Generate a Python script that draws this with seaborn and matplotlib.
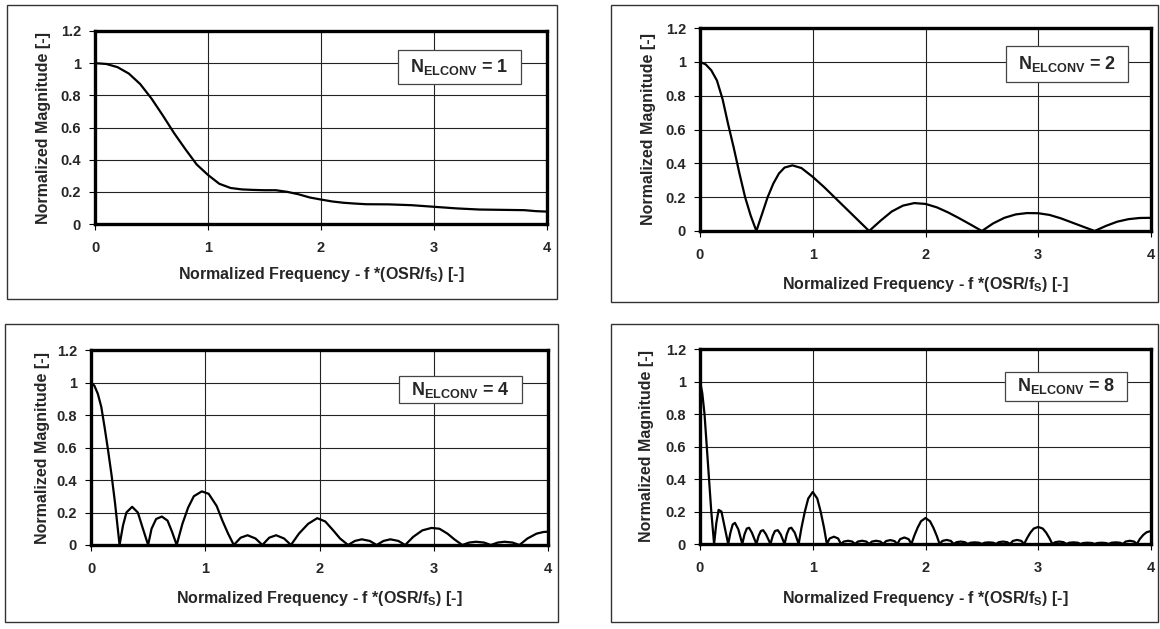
import matplotlib.pyplot as plt
import seaborn as sns
from matplotlib.patches import Rectangle

W, H = 1160, 629

# N_ELCONV = 1
freq_n1 = [0, 0.1, 0.2, 0.3, 0.4, 0.5, 0.6, 0.7, 0.8, 0.9, 1.0, 1.1, 1.2, 1.3, 1.4, 1.5,
           1.6, 1.7, 1.8, 1.9, 2.0, 2.1, 2.2, 2.3, 2.4, 2.6, 2.8, 3.0, 3.2, 3.4, 3.6, 3.8, 3.9, 4.0]
mag_n1 = [1.0, 0.995, 0.975, 0.935, 0.87, 0.78, 0.675, 0.565, 0.465, 0.37, 0.305, 0.25, 0.224,
          0.215, 0.212, 0.21, 0.21, 0.2, 0.185, 0.165, 0.152, 0.14, 0.132, 0.127, 0.123, 0.122,
          0.117, 0.107, 0.097, 0.09, 0.088, 0.086, 0.08, 0.077]

# N_ELCONV = 2
freq_n2 = [0, 0.05, 0.1, 0.15, 0.2, 0.25, 0.3, 0.35, 0.4, 0.45, 0.5,
           0.55, 0.6, 0.65, 0.7, 0.75, 0.82, 0.9, 1.0, 1.1, 1.2, 1.3, 1.4, 1.5,
           1.6, 1.7, 1.8, 1.9, 2.0, 2.1, 2.2, 2.3, 2.4, 2.5,
           2.6, 2.7, 2.8, 2.9, 3.0, 3.1, 3.2, 3.3, 3.4, 3.5,
           3.6, 3.7, 3.8, 3.9, 4.0]
mag_n2 = [1.0, 0.985, 0.95, 0.89, 0.78, 0.63, 0.49, 0.34, 0.2, 0.09, 0.0,
          0.1, 0.2, 0.28, 0.34, 0.375, 0.388, 0.372, 0.32, 0.26, 0.195, 0.13, 0.065, 0.0,
          0.06, 0.115, 0.15, 0.165, 0.16, 0.14, 0.11, 0.075, 0.038, 0.0,
          0.045, 0.078, 0.098, 0.106, 0.105, 0.095, 0.075, 0.05, 0.025, 0.0,
          0.03, 0.055, 0.07, 0.077, 0.078]

# N_ELCONV = 4
freq_n4 = [0, 0.03, 0.06, 0.09, 0.12, 0.15, 0.18, 0.21, 0.25,
           0.28, 0.31, 0.36, 0.41, 0.45, 0.5,
           0.53, 0.57, 0.62, 0.67, 0.71, 0.75,
           0.8, 0.85, 0.9, 0.97, 1.03, 1.1, 1.15, 1.2, 1.25,
           1.31, 1.37, 1.44, 1.5,
           1.56, 1.62, 1.69, 1.75,
           1.82, 1.9, 1.98, 2.05, 2.12, 2.18, 2.25,
           2.31, 2.37, 2.44, 2.5,
           2.56, 2.62, 2.69, 2.75,
           2.82, 2.9, 2.98, 3.05, 3.12, 3.18, 3.25,
           3.31, 3.37, 3.44, 3.5,
           3.56, 3.62, 3.69, 3.75,
           3.82, 3.9, 3.96, 4.0]
mag_n4 = [1.0, 0.98, 0.93, 0.85, 0.72, 0.58, 0.43, 0.26, 0.0,
          0.12, 0.2, 0.235, 0.2, 0.11, 0.0,
          0.1, 0.16, 0.175, 0.15, 0.08, 0.0,
          0.13, 0.23, 0.3, 0.33, 0.315, 0.24, 0.15, 0.07, 0.0,
          0.045, 0.06, 0.04, 0.0,
          0.045, 0.06, 0.04, 0.0,
          0.07, 0.13, 0.165, 0.145, 0.09, 0.04, 0.0,
          0.025, 0.035, 0.025, 0.0,
          0.025, 0.035, 0.025, 0.0,
          0.05, 0.09, 0.105, 0.1, 0.07, 0.035, 0.0,
          0.015, 0.02, 0.015, 0.0,
          0.015, 0.02, 0.015, 0.0,
          0.04, 0.07, 0.08, 0.082]

# N_ELCONV = 8
freq_n8 = [0, 0.02, 0.04, 0.06, 0.08, 0.1, 0.125,
           0.145, 0.165, 0.19, 0.22, 0.25,
           0.27, 0.29, 0.31, 0.34, 0.375,
           0.395, 0.415, 0.435, 0.46, 0.5,
           0.52, 0.54, 0.56, 0.585, 0.625,
           0.645, 0.665, 0.69, 0.715, 0.75,
           0.77, 0.79, 0.81, 0.84, 0.875,
           0.9, 0.93, 0.96, 1.0, 1.04, 1.07, 1.1, 1.125,
           1.15, 1.1875, 1.225, 1.25,
           1.275, 1.3125, 1.35, 1.375,
           1.4, 1.4375, 1.475, 1.5,
           1.525, 1.5625, 1.6, 1.625,
           1.65, 1.6875, 1.725, 1.75,
           1.775, 1.8125, 1.85, 1.875,
           1.9, 1.93, 1.96, 2.0, 2.04, 2.07, 2.1, 2.125,
           2.15, 2.1875, 2.225, 2.25,
           2.275, 2.3125, 2.35, 2.375,
           2.4, 2.4375, 2.475, 2.5,
           2.525, 2.5625, 2.6, 2.625,
           2.65, 2.6875, 2.725, 2.75,
           2.775, 2.8125, 2.85, 2.875,
           2.9, 2.93, 2.96, 3.0, 3.04, 3.07, 3.1, 3.125,
           3.15, 3.1875, 3.225, 3.25,
           3.275, 3.3125, 3.35, 3.375,
           3.4, 3.4375, 3.475, 3.5,
           3.525, 3.5625, 3.6, 3.625,
           3.65, 3.6875, 3.725, 3.75,
           3.775, 3.8125, 3.85, 3.875,
           3.9, 3.93, 3.96, 4.0]
mag_n8 = [1.0, 0.93, 0.8, 0.6, 0.4, 0.2, 0.0,
          0.13, 0.21, 0.2, 0.1, 0.0,
          0.07, 0.12, 0.13, 0.09, 0.0,
          0.06, 0.095, 0.1, 0.07, 0.0,
          0.05, 0.08, 0.085, 0.06, 0.0,
          0.05, 0.08, 0.085, 0.06, 0.0,
          0.06, 0.095, 0.1, 0.07, 0.0,
          0.1, 0.2, 0.28, 0.32, 0.28, 0.2, 0.1, 0.0,
          0.034, 0.045, 0.034, 0.0,
          0.015, 0.02, 0.015, 0.0,
          0.015, 0.02, 0.015, 0.0,
          0.015, 0.02, 0.015, 0.0,
          0.018, 0.024, 0.018, 0.0,
          0.03, 0.04, 0.03, 0.0,
          0.05, 0.1, 0.14, 0.16, 0.14, 0.1, 0.05, 0.0,
          0.019, 0.025, 0.019, 0.0,
          0.011, 0.015, 0.011, 0.0,
          0.008, 0.01, 0.008, 0.0,
          0.008, 0.01, 0.008, 0.0,
          0.011, 0.015, 0.011, 0.0,
          0.019, 0.025, 0.019, 0.0,
          0.035, 0.07, 0.095, 0.105, 0.095, 0.07, 0.035, 0.0,
          0.011, 0.015, 0.011, 0.0,
          0.008, 0.01, 0.008, 0.0,
          0.006, 0.008, 0.006, 0.0,
          0.006, 0.008, 0.006, 0.0,
          0.008, 0.01, 0.008, 0.0,
          0.015, 0.02, 0.015, 0.0,
          0.03, 0.055, 0.072, 0.08]

x_ticks = [0, 1, 2, 3, 4]
y_ticks = [0, 0.2, 0.4, 0.6, 0.8, 1.0, 1.2]
y_tick_labels = ['0', '0.2', '0.4', '0.6', '0.8', '1', '1.2']
n_values = [1, 2, 4, 8]

x_label = 'Normalized Frequency - f *(OSR/f$_{\\mathrm{S}}$) [-]'
y_label = 'Normalized Magnitude [-]'

# pixel layout: outer frame, plot area, legend box, ylabel centre x, xlabel centre y
layout = [
    dict(frame=(7, 5, 557, 299), axes=(95, 31, 547, 224), box=(398, 50, 521, 84), ylab=44, xlab=275),
    dict(frame=(611, 5, 1158, 302), axes=(700, 28, 1151, 231), box=(1006, 46, 1128, 82), ylab=648, xlab=285),
    dict(frame=(5, 324, 558, 622), axes=(91, 350, 548, 545), box=(399, 376, 522, 403), ylab=43, xlab=598),
    dict(frame=(611, 324, 1158, 622), axes=(700, 349, 1151, 544), box=(1005, 372, 1127, 401), ylab=647, xlab=598),
]

sns.set_theme(style='white')
plt.rcParams['font.family'] = ['Liberation Sans', 'DejaVu Sans']
plt.rcParams['font.weight'] = 'bold'
plt.rcParams['mathtext.fontset'] = 'custom'
plt.rcParams['mathtext.rm'] = 'Liberation Sans:bold'
plt.rcParams['mathtext.it'] = 'Liberation Sans:bold'
plt.rcParams['mathtext.bf'] = 'Liberation Sans:bold'


def fig_rect(x0, y0, x1, y1):
    return [x0 / W, 1 - y1 / H, (x1 - x0) / W, (y1 - y0) / H]


fig = plt.figure(figsize=(W / 100, H / 100), dpi=100)
fig.patch.set_facecolor('white')

series = [(freq_n1, mag_n1), (freq_n2, mag_n2), (freq_n4, mag_n4), (freq_n8, mag_n8)]

for (freq, mag), n, lay in zip(series, n_values, layout):
    # outer chart frame
    fx0, fy0, fw, fh = fig_rect(*lay['frame'])
    fig.patches.append(Rectangle((fx0, fy0), fw, fh, transform=fig.transFigure,
                                 fill=False, ec='#333333', lw=1.0))

    ax = fig.add_axes(fig_rect(*lay['axes']))
    sns.lineplot(x=freq, y=mag, ax=ax, color='black', lw=1.6,
                 estimator=None, sort=False, zorder=3)
    ax.set_xlim(0, 4)
    ax.set_ylim(0, 1.2)
    ax.set_xticks(x_ticks)
    ax.set_yticks(y_ticks)
    ax.set_yticklabels(y_tick_labels)
    ax.set_xlabel('')
    ax.set_ylabel('')
    ax.grid(True, color='#222222', lw=0.8)
    ax.set_axisbelow(True)
    for sp in ax.spines.values():
        sp.set_visible(True)
        sp.set_color('black')
        sp.set_linewidth(2.4)
        sp.set_zorder(4)
    ax.tick_params(axis='both', direction='out', length=4, width=0.8, color='black',
                   labelsize=10.5, bottom=True, left=True)
    ax.tick_params(axis='x', pad=8)
    ax.tick_params(axis='y', pad=6)
    for lbl in ax.get_xticklabels() + ax.get_yticklabels():
        lbl.set_fontweight('bold')

    ax_x0, ax_y0, ax_x1, ax_y1 = lay['axes']
    fig.text(((ax_x0 + ax_x1) / 2) / W, 1 - lay['xlab'] / H, x_label,
             ha='center', va='center', fontsize=11.5, fontweight='bold')
    fig.text(lay['ylab'] / W, 1 - ((ax_y0 + ax_y1) / 2) / H, y_label,
             ha='center', va='center', rotation=90, fontsize=11.5, fontweight='bold')

    # legend-like label box
    bx0, by0, bx1, by1 = lay['box']
    r = fig_rect(bx0, by0, bx1, by1)
    fig.patches.append(Rectangle((r[0], r[1]), r[2], r[3], transform=fig.transFigure,
                                 facecolor='white', ec='#444444', lw=0.9, zorder=5))
    fig.text(((bx0 + bx1) / 2) / W, 1 - ((by0 + by1) / 2) / H,
             f'N$_{{\\mathrm{{ELCONV}}}}$ = {n}',
             ha='center', va='center', fontsize=13, fontweight='bold', zorder=6)

fig.savefig('out.png', dpi=100)
